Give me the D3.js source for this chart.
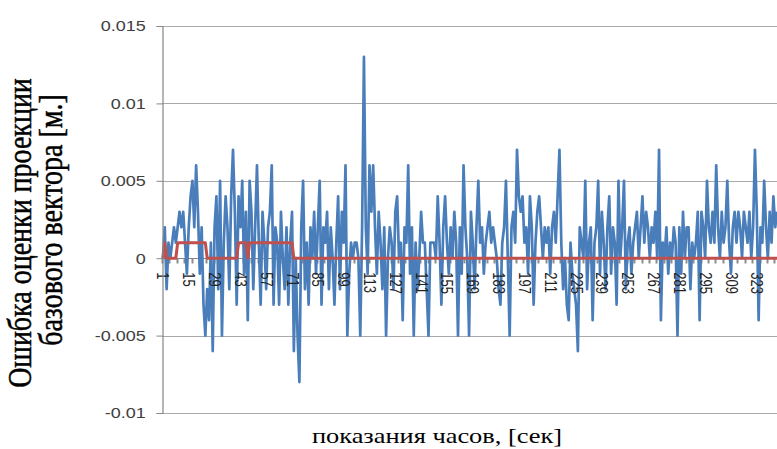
<!DOCTYPE html>
<html>
<head>
<meta charset="utf-8">
<script src="https://cdn.jsdelivr.net/npm/d3@7"></script>
<style>
  body { margin: 0; background: #fff; }
  svg { display: block; }
  .serif { font-family: "Liberation Serif", "Times New Roman", serif; }
  .sans { font-family: "Liberation Sans", Arial, sans-serif; }
</style>
</head>
<body>
<svg id="chart" width="777" height="449"></svg>
<script>
// Baseline projection error per clock reading, metres
const projError = [
  0, 0.002, -0.002, 0.001, 0, 0.001, 0.002, 0.001, 0.002, 0.003,
  0.002, 0.003, 0.001, -0.001, 0.002, 0.004, 0.005, 0.002, 0.006, 0.003,
  -0.001, 0.002, -0.003, -0.005, -0.002, -0.004, 0.001, -0.006, 0.002, 0.004,
  -0.002, 0.005, -0.005, 0.001, 0.004, 0.002, -0.002, 0.004, 0.007, 0.003,
  -0.003, 0.004, 0.002, 0.005, -0.001, 0.003, -0.004, 0.005, 0.003, -0.002,
  0.002, 0.006, 0.001, -0.003, 0.003, 0.001, -0.002, 0.002, 0.003, 0.006,
  -0.003, 0.002, 0.001, -0.003, 0.003, 0, -0.002, 0.002, -0.003, 0.001,
  0.003, -0.006, 0, -0.005, -0.008, 0.002, 0.005, -0.002, 0.001, -0.003,
  0.002, 0, 0.003, -0.001, 0.002, 0.005, -0.003, 0.002, 0.001, 0.003,
  -0.002, 0.002, 0, -0.003, 0.001, 0.004, -0.002, 0.003, 0.001, 0.006,
  -0.005, -0.001, 0.001, 0, 0.001, 0.001, 0, -0.005, 0.002, 0.013,
  0.002, -0.001, 0.006, 0.003, 0.006, 0.002, -0.001, 0.003, 0.001, -0.002,
  0.002, -0.005, 0, 0.002, 0.001, -0.002, 0.003, 0.004, 0, 0.001,
  -0.004, 0.002, 0.001, 0.006, -0.001, 0.002, -0.005, 0.001, -0.002, 0,
  0.003, 0.001, 0.001, -0.002, -0.005, 0.001, 0.001, 0.001, 0, 0.004,
  0.001, -0.003, 0.002, 0.004, 0.001, -0.001, 0.002, 0, 0.003, 0.001,
  -0.005, 0.002, -0.001, 0.006, 0.002, 0, -0.005, 0.003, 0.001, -0.002,
  0.002, 0.005, 0.001, 0.002, -0.001, 0.001, 0.002, 0.003, 0.001, 0.002,
  0.001, 0, -0.002, -0.003, 0.001, 0.002, 0.005, 0, -0.005, 0.002,
  0.003, 0.001, 0.007, 0.004, 0.003, 0.004, 0.001, 0.002, -0.001, 0.004,
  0.002, -0.003, 0.001, 0.003, 0.004, 0.002, 0, 0.002, 0.001, 0.002,
  -0.001, 0.002, 0.003, 0.001, 0.004, 0.007, 0.001, -0.002, 0, -0.003,
  -0.004, 0.001, -0.001, -0.002, -0.003, -0.006, 0.002, 0.001, 0, 0.005,
  -0.002, 0.001, 0.002, -0.004, 0.001, 0.002, 0.005, -0.001, 0.003, 0.001,
  -0.002, 0.002, 0.004, -0.001, 0.002, 0.001, -0.003, 0.005, 0, 0.002,
  0.005, -0.002, 0.001, 0.002, -0.001, 0.001, 0.002, 0.003, 0, 0.002,
  0.004, 0.001, 0.003, 0.002, 0, 0.002, 0.001, 0.003, 0, 0.007,
  -0.004, 0.001, 0, 0.002, -0.001, 0.001, 0, 0.002, 0.001, -0.005,
  0.002, -0.001, 0.003, 0, 0.002, 0.002, -0.002, 0.001, 0, 0.001,
  0.003, -0.004, 0.003, 0.002, 0, 0.005, 0.002, 0.001, 0.003, 0.001,
  0.006, 0.002, 0, 0.003, 0.001, 0.002, 0.005, 0.001, -0.001, 0.002,
  0.003, 0.001, 0.003, 0.002, 0, 0.003, 0.002, 0.001, 0.003, 0,
  0.002, 0.007, 0.003, -0.004, 0.002, 0.001, 0.005, 0.002, 0, 0.003,
  0.001, 0.004, 0.002, 0.003
];

// Second series (red), metres
const stepSeries = [
  0, 0.001, 0, 0, 0, 0, 0, 0, 0.001, 0.001,
  0.001, 0.001, 0.001, 0.001, 0.001, 0.001, 0.001, 0.001, 0.001, 0.001,
  0.001, 0.001, 0.001, 0.001, 0, 0, 0, 0, 0, 0,
  0, 0, 0, 0, 0, 0, 0, 0, 0, 0,
  0, 0.001, 0.001, 0.001, 0.001, 0.001, 0, 0.001, 0.001, 0.001,
  0.001, 0.001, 0.001, 0.001, 0.001, 0.001, 0.001, 0.001, 0.001, 0.001,
  0.001, 0.001, 0.001, 0.001, 0.001, 0.001, 0.001, 0.001, 0.001, 0.001,
  0.001, 0, 0, 0, 0, 0, 0, 0, 0, 0,
  0, 0, 0, 0, 0, 0, 0, 0, 0, 0,
  0, 0, 0, 0, 0, 0, 0, 0, 0, 0,
  0, 0, 0, 0, 0, 0, 0, 0, 0, 0,
  0, 0, 0, 0, 0, 0, 0, 0, 0, 0,
  0, 0, 0, 0, 0, 0, 0, 0, 0, 0,
  0, 0, 0, 0, 0, 0, 0, 0, 0, 0,
  0, 0, 0, 0, 0, 0, 0, 0, 0, 0,
  0, 0, 0, 0, 0, 0, 0, 0, 0, 0,
  0, 0, 0, 0, 0, 0, 0, 0, 0, 0,
  0, 0, 0, 0, 0, 0, 0, 0, 0, 0,
  0, 0, 0, 0, 0, 0, 0, 0, 0, 0,
  0, 0, 0, 0, 0, 0, 0, 0, 0, 0,
  0, 0, 0, 0, 0, 0, 0, 0, 0, 0,
  0, 0, 0, 0, 0, 0, 0, 0, 0, 0,
  0, 0, 0, 0, 0, 0, 0, 0, 0, 0,
  0, 0, 0, 0, 0, 0, 0, 0, 0, 0,
  0, 0, 0, 0, 0, 0, 0, 0, 0, 0,
  0, 0, 0, 0, 0, 0, 0, 0, 0, 0,
  0, 0, 0, 0, 0, 0, 0, 0, 0, 0,
  0, 0, 0, 0, 0, 0, 0, 0, 0, 0,
  0, 0, 0, 0, 0, 0, 0, 0, 0, 0,
  0, 0, 0, 0, 0, 0, 0, 0, 0, 0,
  0, 0, 0, 0, 0, 0, 0, 0, 0, 0,
  0, 0, 0, 0, 0, 0, 0, 0, 0, 0,
  0, 0, 0, 0, 0, 0, 0, 0, 0, 0,
  0, 0, 0, 0
];

const categoryLabels = [1, 15, 29, 43, 57, 71, 85, 99, 113, 127, 141, 155, 169, 183,
  197, 211, 225, 239, 253, 267, 281, 295, 309, 323];
const yTicks = [-0.01, -0.005, 0, 0.005, 0.01, 0.015];
const yTickText = ["-0.01", "-0.005", "0", "0.005", "0.01", "0.015"];

const yTitleLines = ["Ошибка оценки проекции", "базового вектора [м.]"];
const xTitle = "показания часов, [сек]";

const categories = d3.range(1, projError.length + 1);

const svg = d3.select("#chart");
const plot = { left: 162, right: 778, top: 26, bottom: 413, edge: 777 };

const x = d3.scaleBand().domain(categories).range([plot.left, plot.right]);
const cx = d => x(d) + x.bandwidth() / 2;
const y = d3.scaleLinear().domain([-0.01, 0.015]).range([plot.bottom, plot.top]);

// horizontal gridlines
svg.append("g")
  .selectAll("line")
  .data(yTicks)
  .join("line")
  .attr("x1", plot.left)
  .attr("x2", plot.edge)
  .attr("y1", d => Math.round(y(d)) + 0.5)
  .attr("y2", d => Math.round(y(d)) + 0.5)
  .attr("stroke", "#a9a9a9")
  .attr("stroke-width", 1.2);

// category axis crossing at zero: line and tick marks below it
const zeroY = Math.round(y(0)) + 0.5;
svg.append("line")
  .attr("x1", plot.left).attr("x2", plot.edge)
  .attr("y1", zeroY).attr("y2", zeroY)
  .attr("stroke", "#868686");
svg.append("g")
  .selectAll("line")
  .data(categories.filter(d => d % 4 === 1))
  .join("line")
  .attr("x1", d => Math.round(x(d)) + 0.5)
  .attr("x2", d => Math.round(x(d)) + 0.5)
  .attr("y1", zeroY)
  .attr("y2", zeroY + 5)
  .attr("stroke", "#8c8c8c")
  .attr("stroke-width", 2);

// data lines
const line = d3.line()
  .x((d, i) => cx(categories[i]))
  .y(d => y(d));

svg.append("path")
  .datum(projError)
  .attr("fill", "none")
  .attr("stroke", "#4a7ebb")
  .attr("stroke-width", 2.7)
  .attr("stroke-linejoin", "round")
  .attr("d", line);

svg.append("path")
  .datum(stepSeries)
  .attr("fill", "none")
  .attr("stroke", "#c0504d")
  .attr("stroke-width", 3)
  .attr("stroke-linejoin", "round")
  .attr("d", line);

// category labels, rotated, just under the zero line
const xAxis = d3.axisBottom(x).tickValues(categoryLabels).tickSize(0);
const gx = svg.append("g")
  .attr("transform", `translate(0,${y(0)})`)
  .call(xAxis);
gx.attr("font-family", null);
gx.select(".domain").remove();
gx.selectAll("text")
  .attr("class", "sans")
  .attr("transform", "scale(1.2,1) rotate(90)")
  .attr("x", 14)
  .attr("y", 0)
  .attr("dy", "0.35em")
  .style("text-anchor", "start")
  .style("font-size", "13px")
  .attr("fill", "#222");

// value axis
const yAxis = d3.axisLeft(y)
  .tickValues(yTicks)
  .tickSize(6)
  .tickFormat((d, i) => yTickText[i]);
const gy = svg.append("g")
  .attr("transform", `translate(${plot.left + 0.5},0)`)
  .call(yAxis);
gy.attr("font-family", null);
gy.select(".domain").attr("stroke", "#868686").attr("stroke-width", 1.2);
gy.selectAll(".tick line").attr("stroke", "#868686");
gy.selectAll("text")
  .attr("class", "sans")
  .attr("x", -14)
  .attr("transform", "scale(1.2,1)")
  .style("font-size", "15px")
  .attr("fill", "#404040");

// axis titles
const yTitlePos = [[31, 233], [62, 220]];
svg.append("g")
  .selectAll("text")
  .data(yTitleLines)
  .join("text")
  .attr("class", "serif")
  .attr("transform", (d, i) => `translate(${yTitlePos[i][0]},${yTitlePos[i][1]}) scale(1.2,1) rotate(-90)`)
  .attr("text-anchor", "middle")
  .style("font-size", "28px")
  .attr("fill", "#000")
  .attr("stroke", "#000")
  .attr("stroke-width", 0.4)
  .text(d => d);

svg.append("text")
  .attr("class", "serif")
  .attr("transform", "translate(437,443) scale(1.2,1)")
  .attr("text-anchor", "middle")
  .style("font-size", "22px")
  .attr("fill", "#000")
  .text(xTitle);
</script>
</body>
</html>
